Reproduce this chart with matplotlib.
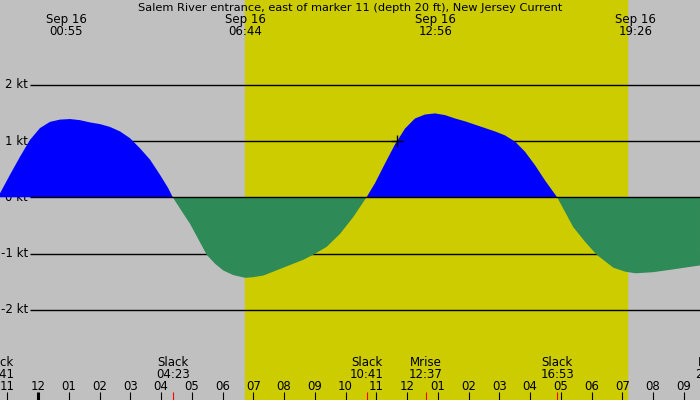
import matplotlib
matplotlib.use("Agg")
import matplotlib.pyplot as plt
import matplotlib.transforms as mtransforms
import numpy as np

# ---- data (hours since midnight Sep 16, knots) ----
times = [-1.317, -1.236, -0.911, -0.585, -0.260, 0.065, 0.390, 0.715, 1.041, 1.366,
         1.691, 2.016, 2.341, 2.667, 2.992, 3.317, 3.642, 3.967, 4.237, 4.383,
         4.618, 4.943, 5.486, 5.756, 6.026, 6.341, 6.733, 6.992, 7.327, 7.977,
         8.628, 8.953, 9.388, 9.821, 10.254, 10.683,
         10.959, 11.285, 11.610, 11.935, 12.260, 12.585, 12.911, 13.236, 13.561,
         13.886, 14.211, 14.537, 14.862, 15.187, 15.512, 15.837, 16.163, 16.488,
         16.883, 17.140, 17.407, 17.790, 18.169, 18.709, 19.090, 19.433, 20.010,
         20.660, 21.528]
speeds = [0.0, 0.07, 0.40, 0.72, 1.02, 1.23, 1.34, 1.38, 1.39, 1.37,
          1.33, 1.30, 1.25, 1.17, 1.05, 0.87, 0.67, 0.40, 0.16, 0.0,
          -0.20, -0.47, -1.02, -1.18, -1.30, -1.38, -1.43, -1.42, -1.39, -1.25,
          -1.11, -1.02, -0.88, -0.65, -0.35, 0.0,
          0.25, 0.60, 0.94, 1.22, 1.40, 1.47, 1.49, 1.46, 1.40,
          1.35, 1.29, 1.23, 1.17, 1.10, 0.99, 0.81, 0.57, 0.30,
          0.0, -0.26, -0.53, -0.79, -1.02, -1.25, -1.32, -1.35, -1.33,
          -1.28, -1.21]

title = "Salem River entrance, east of marker 11 (depth 20 ft), New Jersey Current"
max_times = [0.917, 6.733, 12.933, 19.433]
max_labels = ["00:55", "06:44", "12:56", "19:26"]
max_date = "Sep 16"

event_times = [-1.317, 4.383, 10.683, 12.617, 16.883, 21.917]
event_names = ["Slack", "Slack", "Slack", "Mrise", "Slack", "Mset"]
event_labels = ["22:41", "04:23", "10:41", "12:37", "16:53", "21:55"]

sunrise, sunset = 6.733, 19.154
hour_ticks = list(range(-1, 22))
hour_labels = ["%02d" % (((h - 1) % 12) + 1) for h in hour_ticks]

kt_levels = [2, 1, 0, -1, -2]
kt_labels = ["2 kt", "1 kt", "0 kt", "-1 kt", "-2 kt"]

now_time, now_speed = 11.665, 1.0

# ---- layout ----
W, H = 700, 400
px_per_hr = 30.75
x0_px = 38.0
zero_px = 197.3
px_per_kt = 56.3

fig = plt.figure(figsize=(W / 100, H / 100), dpi=100)
ax = fig.add_axes([0, 0, 1, 1])
ax.set_xlim(-x0_px / px_per_hr, (W - x0_px) / px_per_hr)
ax.set_ylim(-(H - zero_px) / px_per_kt, zero_px / px_per_kt)
ax.axis("off")
fig.patch.set_facecolor("#c0c0c0")

ax.axvspan(sunrise, sunset, color="#cccc00", zorder=0)

t = np.array(times)
v = np.array(speeds)
trans_xfig = mtransforms.blended_transform_factory(ax.transData, fig.transFigure)
trans_figy = mtransforms.blended_transform_factory(fig.transFigure, ax.transData)

# grid lines
for lv in kt_levels:
    ax.plot([30 / W, 1], [lv, lv], transform=trans_figy, color="black", lw=1.0,
            zorder=3 if lv == 0 else 1, solid_capstyle="butt")
for lv, lb in zip(kt_levels, kt_labels):
    ax.text(28 / W, lv, lb, transform=trans_figy, ha="right", va="center",
            fontsize=8.5, family="DejaVu Sans", color="black", zorder=1)

ax.fill_between(t, v, 0, where=v >= 0, interpolate=True, color="#0000ff", lw=0, zorder=2)
ax.fill_between(t, v, 0, where=v <= 0, interpolate=True, color="#2e8b57", lw=0, zorder=2)

ax.plot([now_time], [now_speed], marker="+", color="black", ms=8, mew=1.0, zorder=4)

# title & max labels
fig.text(0.5, 1 - 8 / H, title, ha="center", va="center", fontsize=8.2,
         family="DejaVu Sans", color="black")
for mt, ml in zip(max_times, max_labels):
    ax.text(mt, 1 - 19.5 / H, max_date, transform=trans_xfig, ha="center", va="center",
            fontsize=8.5, family="DejaVu Sans", color="black")
    ax.text(mt, 1 - 31.5 / H, ml, transform=trans_xfig, ha="center", va="center",
            fontsize=8.5, family="DejaVu Sans", color="black")

# hour ticks
for h, lb in zip(hour_ticks, hour_labels):
    ax.text(h, 1 - 386 / H, lb, transform=trans_xfig, ha="center", va="center",
            fontsize=8.5, family="DejaVu Sans", color="black")
    if h == 0:
        ax.plot([h, h], [0, 8 / H], transform=trans_xfig, color="black", lw=2.2,
                solid_capstyle="butt")
    else:
        ax.plot([h, h], [0, 8 / H], transform=trans_xfig, color="black", lw=0.8,
                solid_capstyle="butt")

# events
for et, en, el in zip(event_times, event_names, event_labels):
    ax.text(et, 1 - 362 / H, en, transform=trans_xfig, ha="center", va="center",
            fontsize=8.5, family="DejaVu Sans", color="black")
    ax.text(et, 1 - 374 / H, el, transform=trans_xfig, ha="center", va="center",
            fontsize=8.5, family="DejaVu Sans", color="black")
    ax.plot([et, et], [0, 8 / H], transform=trans_xfig, color="red", lw=0.8,
            solid_capstyle="butt")

fig.savefig("out.png", dpi=100, facecolor=fig.get_facecolor())
